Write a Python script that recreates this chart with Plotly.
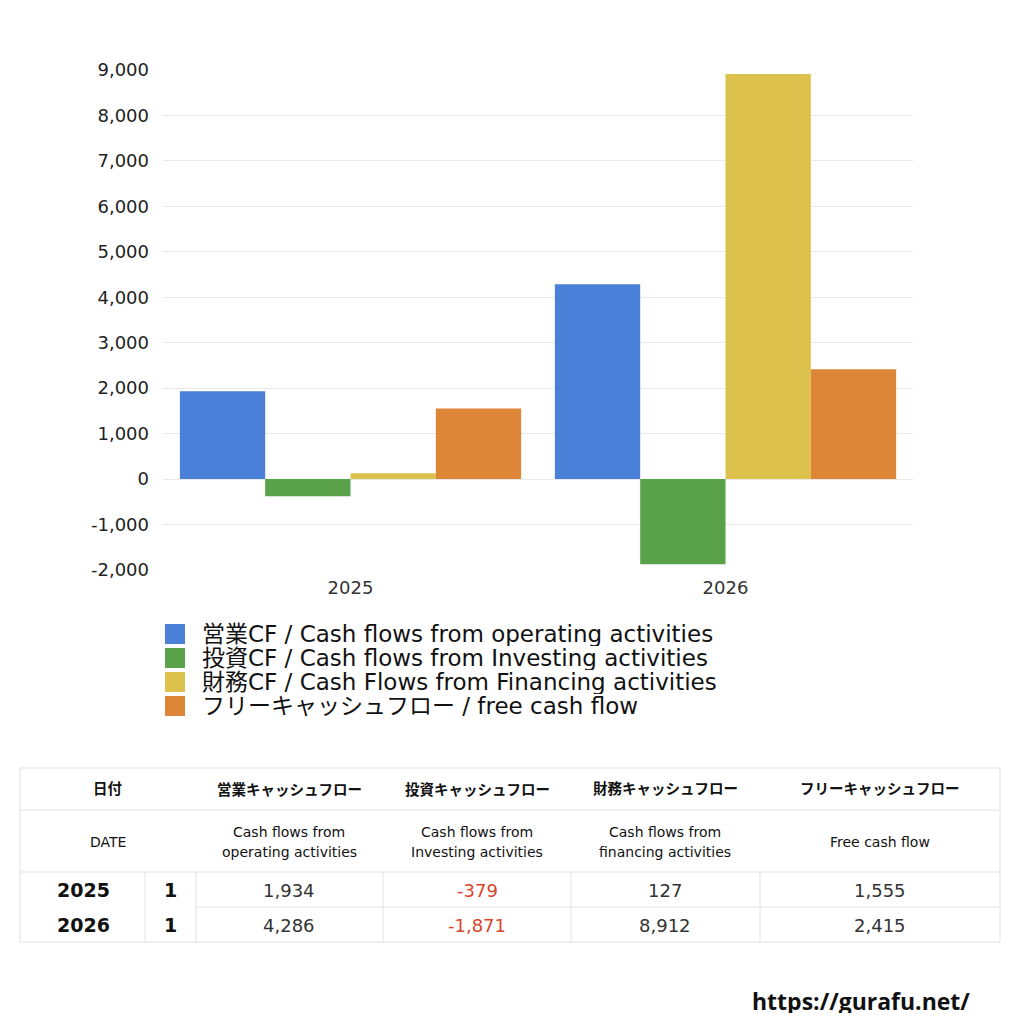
import plotly.graph_objects as go

# data
years = ["2025", "2026"]
operating_cf = [1934, 4286]
investing_cf = [-379, -1871]
financing_cf = [127, 8912]
free_cf = [1555, 2415]

series_names = [
    "営業CF / Cash flows from operating activities",
    "投資CF / Cash flows from Investing activities",
    "財務CF / Cash Flows from Financing activities",
    "フリーキャッシュフロー / free cash flow",
]
series_colors = ["#4a80d8", "#5aa24a", "#dcc24c", "#dd8638"]

y_tickvals = [-2000, -1000, 0, 1000, 2000, 3000, 4000, 5000, 6000, 7000, 8000, 9000]
y_ticktext = ["-2,000", "-1,000", "0", "1,000", "2,000", "3,000", "4,000", "5,000",
              "6,000", "7,000", "8,000", "9,000"]

table_head_jp = ["営業キャッシュフロー", "投資キャッシュフロー", "財務キャッシュフロー", "フリーキャッシュフロー"]
table_head_en = [["Cash flows from", "operating activities"], ["Cash flows from", "Investing activities"],
                 ["Cash flows from", "financing activities"], ["Free cash flow"]]
quarter = ["1", "1"]

FONT = "DejaVu Sans, Noto Sans CJK JP"

# page geometry in screen pixels -> paper coords (page body has an 8px margin)
OFF = 8
W = H = 1008
L, R, T, B = 163, 913, 70, 570
def px(x):
    return (x - L) / (R - L)
def py(y):
    return (B - y) / (B - T)

fig = go.Figure()
for name, vals, col in zip(series_names, [operating_cf, investing_cf, financing_cf, free_cf], series_colors):
    fig.add_trace(go.Bar(x=years, y=vals, name=name, marker=dict(color=col, line=dict(width=0))))

fig.update_layout(
    width=W, height=H,
    margin=dict(l=L - OFF, r=W + OFF - R, t=T - OFF, b=H + OFF - B, pad=0),
    paper_bgcolor="white", plot_bgcolor="white",
    font=dict(family=FONT, color="#222"),
    barmode="group", bargap=0.09, bargroupgap=0,
    showlegend=False,
)
fig.update_xaxes(showgrid=False, showline=False, ticks="", ticklabelstandoff=5,
                 tickfont=dict(size=18, color="#333"))
fig.update_yaxes(range=[-2000, 9000], tickvals=y_tickvals, ticktext=y_ticktext, gridcolor="#e8e8e8",
                 zeroline=True, zerolinecolor="#e8e8e8", zerolinewidth=1,
                 ticks="", ticklen=0, ticklabelstandoff=13, tickfont=dict(size=18, color="#222"))

# legend drawn below the plot
for i, (name, col) in enumerate(zip(series_names, series_colors)):
    cy = 634 + 24 * i
    fig.add_shape(type="rect", xref="paper", yref="paper", x0=px(165), x1=px(185),
                  y0=py(cy - 10), y1=py(cy + 10), fillcolor=col, line=dict(width=0))
    fig.add_annotation(x=px(200), y=py(cy), xref="paper", yref="paper", text=name, showarrow=False,
                       xanchor="left", yanchor="middle", height=24,
                       font=dict(size=23, color="#111", family=FONT))

# table
line_col = "#e2e2e2"
def hline(y, x0=20, x1=1000):
    fig.add_shape(type="line", xref="paper", yref="paper", x0=px(x0), x1=px(x1), y0=py(y), y1=py(y),
                  line=dict(color=line_col, width=1))
def vline(x, y0, y1):
    fig.add_shape(type="line", xref="paper", yref="paper", x0=px(x), x1=px(x), y0=py(y0), y1=py(y1),
                  line=dict(color=line_col, width=1))

for y in [768, 810, 872, 942]:
    hline(y)
hline(907, 196, 1000)
vline(20, 768, 942)
vline(1000, 768, 942)
for x in [145, 196, 383, 571, 760]:
    vline(x, 872, 942)

def label(x, y, text, size, color="#111", bold=False):
    if bold:
        text = "<b>" + text + "</b>"
    fig.add_annotation(x=px(x), y=py(y), xref="paper", yref="paper", text=text, showarrow=False,
                       font=dict(size=size, color=color, family=FONT), xanchor="center", yanchor="middle")

col_centers = [289, 477, 665, 880]
label(108, 789, "日付", 14.5, bold=True)
label(108, 842, "DATE", 14)
for cx, jp, en in zip(col_centers, table_head_jp, table_head_en):
    label(cx, 789, jp, 14.5, bold=True)
    if len(en) == 2:
        label(cx, 832, en[0], 14)
        label(cx, 852, en[1], 14)
    else:
        label(cx, 842, en[0], 14)

row_y = [890, 925]
cols = [operating_cf, investing_cf, financing_cf, free_cf]
for i, yr in enumerate(years):
    label(83, row_y[i], yr, 19, bold=True)
    label(170, row_y[i], quarter[i], 19, bold=True)
    for cx, c in zip(col_centers, cols):
        v = c[i]
        label(cx, row_y[i], f"{v:,}", 18, color="#d9452b" if v < 0 else "#333")

fig.add_annotation(x=px(972), y=py(1001), xref="paper", yref="paper", text="<b>https://gurafu.net/</b>",
                   showarrow=False, xanchor="right", yanchor="middle", height=24,
                   font=dict(size=23, color="#111", family="Open Sans"))

fig.write_html("out.html")
